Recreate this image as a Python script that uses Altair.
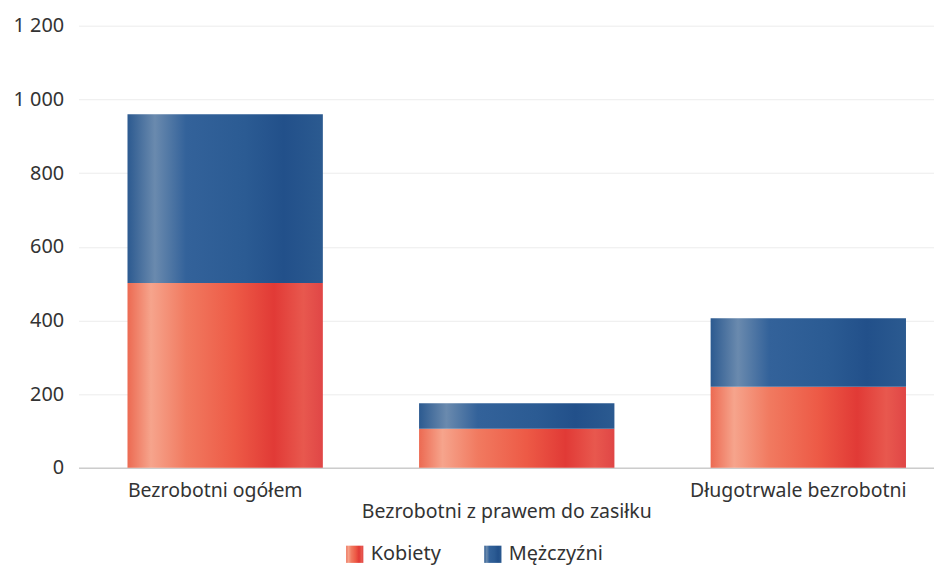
import altair as alt
import pandas as pd

categories = ["Bezrobotni ogółem", "Bezrobotni z prawem do zasiłku", "Długotrwale bezrobotni"]
series = ["Kobiety", "Mężczyźni"]
kobiety = [502, 106, 220]
mezczyzni = [458, 69, 186]

rows = []
for c, k, m in zip(categories, kobiety, mezczyzni):
    rows.append({"kategoria": c, "plec": series[0], "wartosc": k, "kolej": 0})
    rows.append({"kategoria": c, "plec": series[1], "wartosc": m, "kolej": 1})
df = pd.DataFrame(rows)

def grad(stops):
    s = ", ".join("{offset: %s, color: '%s'}" % (o, c) for o, c in stops)
    return {"expr": "{gradient: 'linear', x1: 0, y1: 0, x2: 1, y2: 0, stops: [" + s + "]}"}

red = grad([(0, "#ec6a52"), (0.12, "#f6a48c"), (0.3, "#f17a60"), (0.55, "#ed5a46"),
            (0.75, "#e13a36"), (0.9, "#e8584e"), (1, "#e04646")])
blue = grad([(0, "#2c5a90"), (0.14, "#6a8aae"), (0.3, "#33629a"), (0.6, "#2b5b93"),
             (0.8, "#22508a"), (1, "#2b5a90")])

FONT = "Noto Sans"

chart = alt.Chart(df).mark_bar().encode(
    x=alt.X("kategoria:N", sort=categories, title=None,
            scale=alt.Scale(paddingInner=0.33, paddingOuter=0.132, align=0.636),
            axis=alt.Axis(labelAngle=0, labelOverlap=False, labelBound=False, labelLimit=0,
                          labelFontSize=19.6, labelFont=FONT, labelColor="#333333",
                          labelPadding=14, labelLineHeight=21, ticks=False, labelOffset=-10,
                          domainColor="#cccccc", domainWidth=1.5,
                          labelExpr="datum.value == 'Bezrobotni z prawem do zasiłku' ? ['', datum.label] : datum.label")),
    y=alt.Y("wartosc:Q", stack="zero", title=None,
            scale=alt.Scale(domain=[0, 1200], nice=False),
            axis=alt.Axis(values=[0, 200, 400, 600, 800, 1000, 1200], labelFontSize=20,
                          labelFont=FONT, labelColor="#333333", labelPadding=15,
                          ticks=False, domain=False, gridColor="#ececec",
                          labelExpr="replace(format(datum.value, ','), ',', ' ')")),
    color=alt.Color("plec:N", sort=series, title=None,
                    scale=alt.Scale(domain=series, range=[red, blue]),
                    legend=alt.Legend(orient="none", legendX=268, legendY=522,
                                      direction="horizontal", symbolType="square",
                                      symbolSize=300, symbolStrokeWidth=0,
                                      labelFontSize=20, labelFont=FONT,
                                      labelColor="#333333", columnPadding=42,
                                      labelOffset=6)),
    order=alt.Order("kolej:Q", sort="ascending"),
).properties(
    width=861, height=445,
    padding={"left": 71, "top": 16, "right": 0, "bottom": 100},
    autosize=alt.AutoSizeParams(type="none"),
).configure_view(stroke=None)

chart.save("out.html", embed_options={"renderer": "svg", "actions": False})
